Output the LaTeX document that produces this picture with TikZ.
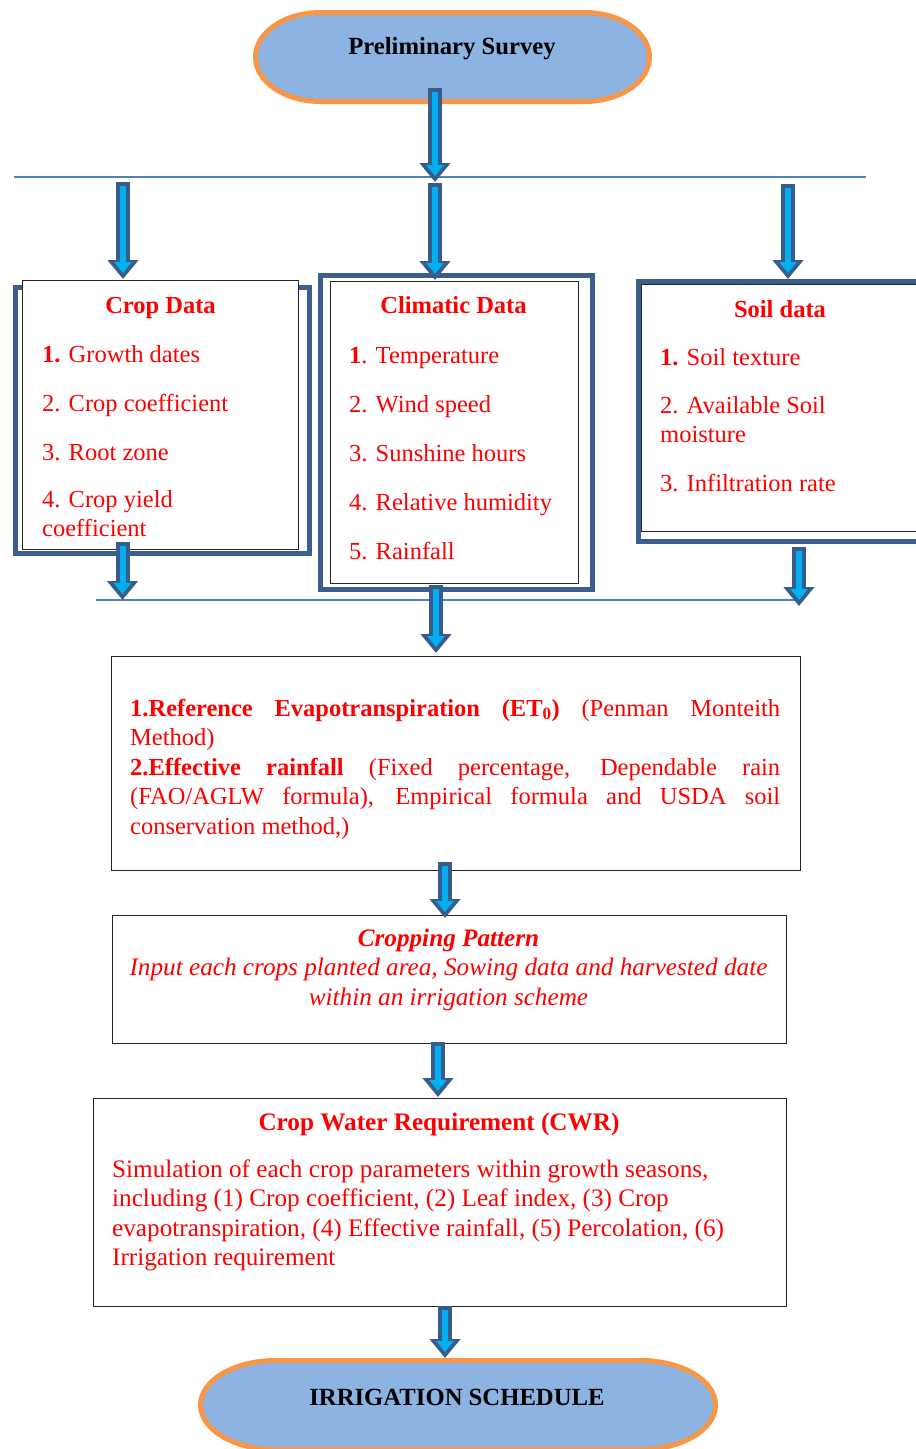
\documentclass[tikz,border=0pt]{standalone}
\usepackage{fontspec}
\setmainfont{Liberation Serif}
\usetikzlibrary{positioning, arrows.meta}
\setlength{\parindent}{0pt}

\definecolor{termfill}{HTML}{8DB3E2}
\definecolor{termedge}{HTML}{F79646}
\definecolor{frameblue}{HTML}{3B5E8C}
\definecolor{busblue}{HTML}{4F81BD}
\definecolor{arrowcore}{HTML}{00B0F0}
\definecolor{arrowedge}{HTML}{385D8A}
\definecolor{textred}{HTML}{FF0000}

\tikzset{
    bodyfont/.style={font=\fontsize{24.5}{29.5}\selectfont},
    lowfont/.style={font=\fontsize{25.2}{29.5}\selectfont},
    terminal/.style={draw=termedge, line width=5pt, fill=termfill},
    termtext/.style={font=\fontsize{24.7}{29.5}\selectfont\bfseries, text=black, inner sep=0pt, anchor=base},
    dataframe/.style={draw=frameblue, line width=5pt, inner sep=0pt},
    databox/.style={draw=black!85, line width=1pt, fill=white, inner sep=0pt},
    datatitle/.style={font=\fontsize{24.5}{29.5}\selectfont\bfseries, text=textred, inner sep=0pt, anchor=base},
    datalist/.style={bodyfont, text=textred, align=left, inner sep=0pt, anchor=north west},
    bus/.style={draw=busblue, line width=1.5pt},
    flowedge/.style={draw=arrowedge, line width=14pt, -{Triangle[width=30pt,length=19pt]}},
    flowcore/.style={draw=arrowcore, line width=6pt, shorten <=4pt, shorten >=6pt, -{Triangle[width=17pt,length=11pt]}}
}

\begin{document}
\begin{tikzpicture}[x=1pt, y=-1pt]

\useasboundingbox (0,0) rectangle (916,1449);
\clip (0,0) rectangle (916,1449);

% preliminary survey
\draw[terminal] (320.5,12.5) -- (584.5,12.5)
    arc[start angle=-90, end angle=90, x radius=65, y radius=44.5]
    -- (320.5,101.5)
    arc[start angle=90, end angle=270, x radius=65, y radius=44.5] -- cycle;
\node[termtext] (survey) at (452,54) {Preliminary Survey};

% bus lines
\coordinate (top-bus-l) at (14,177);
\coordinate (top-bus-r) at (866,177);
\coordinate (low-bus-l) at (96,600);
\coordinate (low-bus-r) at (800,600);
\draw[bus] (top-bus-l) -- (top-bus-r);
\draw[bus] (low-bus-l) -- (low-bus-r);

% crop data
\node[dataframe, minimum width=294pt, minimum height=266.5pt] (crop-frame) at (162,420.25) {};
\node[databox, minimum width=276pt, minimum height=269pt] (crop-box) at (160,415) {};
\node[datatitle] (crop-title) at (160.5,313) {Crop Data};
\node[datalist] (crop-list) at (42,341.35) {\strut\textbf{1.} Growth dates\\[19.5pt]
    2. Crop coefficient\\[19.5pt]
    3. Root zone\\[17.5pt]
    4. Crop yield\\
    coefficient};

% climatic data
\node[dataframe, minimum width=272pt, minimum height=314pt] (clim-frame) at (456.5,432.5) {};
\node[databox, minimum width=248pt, minimum height=302pt] (clim-box) at (454,432) {};
\node[datatitle] (clim-title) at (453.5,313) {Climatic Data};
\node[datalist] (clim-list) at (349,342.35) {\strut\textbf{1}. Temperature\\[19.5pt]
    2. Wind speed\\[19.5pt]
    3. Sunshine hours\\[19.5pt]
    4. Relative humidity\\[19.5pt]
    5. Rainfall};

% soil data
\node[dataframe, minimum width=352pt, minimum height=260pt] (soil-frame) at (814,411) {};
\node[databox, minimum width=359pt, minimum height=247pt] (soil-box) at (820.5,408) {};
\node[datatitle] (soil-title) at (780,317) {Soil data};
\node[datalist] (soil-list) at (660,344.35) {\strut\textbf{1.} Soil texture\\[18.5pt]
    2. Available Soil\\
    moisture\\[19pt]
    3. Infiltration rate};

% evapotranspiration and rainfall
\node[databox, minimum width=689pt, minimum height=214.5pt] (et-box) at (455.5,763.3) {};
\node[bodyfont, text=textred, text width=650pt, align=justify, inner sep=0pt, anchor=north west] (et-text) at (130,695.35)
    {\strut\textbf{1.Reference Evapotranspiration (ET\textsubscript{0})} (Penman Monteith\linebreak
    Method)\par
    \textbf{2.Effective rainfall} (Fixed percentage, Dependable rain\linebreak
    (FAO/AGLW formula), Empirical formula and USDA soil\linebreak
    conservation method,)};

% cropping pattern
\node[databox, minimum width=674pt, minimum height=128pt] (pattern-box) at (449,979) {};
\node[lowfont, text=textred, align=center, inner sep=0pt, anchor=north] (pattern-text) at (448.5,925.35)
    {\strut\textbf{\itshape Cropping Pattern}\\
    \itshape Input each crops planted area, Sowing data and harvested date\\
    \itshape within an irrigation scheme};

% crop water requirement
\node[databox, minimum width=693pt, minimum height=208pt] (cwr-box) at (439.5,1202) {};
\node[datatitle, font=\fontsize{25.2}{29.5}\selectfont\bfseries] (cwr-title) at (439,1130) {Crop Water Requirement (CWR)};
\node[datalist, lowfont] (cwr-text) at (112,1156.35)
    {\strut Simulation of each crop parameters within growth seasons,\\
    including (1) Crop coefficient, (2) Leaf index, (3) Crop\\
    evapotranspiration, (4) Effective rainfall, (5) Percolation, (6)\\
    Irrigation requirement};

% irrigation schedule
\draw[terminal] (275.5,1360.5) -- (640.5,1360.5)
    arc[start angle=-90, end angle=90, x radius=75, y radius=44.5]
    -- (275.5,1449.5)
    arc[start angle=90, end angle=270, x radius=75, y radius=44.5] -- cycle;
\node[termtext] (schedule) at (457,1405) {IRRIGATION SCHEDULE};

% arrow ends
\coordinate (survey-out) at (435,88);
\coordinate (top-bus-mid) at (435,182);
\coordinate (top-bus-crop) at (123,182);
\coordinate (crop-in) at (123,279);
\coordinate (top-bus-clim) at (435,183);
\coordinate (clim-in) at (435,280);
\coordinate (top-bus-soil) at (788,184);
\coordinate (soil-in) at (788,279);
\coordinate (crop-out) at (122.5,542);
\coordinate (low-bus-crop) at (122.5,600);
\coordinate (clim-out) at (436,585);
\coordinate (et-in) at (436,653);
\coordinate (soil-out) at (799,547);
\coordinate (low-bus-soil) at (799,606);
\coordinate (et-out) at (445,862);
\coordinate (pattern-in) at (445,918);
\coordinate (pattern-out) at (438,1042);
\coordinate (cwr-in) at (438,1097);
\coordinate (cwr-out) at (445,1306);
\coordinate (schedule-in) at (445,1358);

% block arrows
\foreach \a/\b in {survey-out/top-bus-mid, top-bus-crop/crop-in, top-bus-clim/clim-in,
    top-bus-soil/soil-in, crop-out/low-bus-crop, clim-out/et-in, soil-out/low-bus-soil,
    et-out/pattern-in, pattern-out/cwr-in, cwr-out/schedule-in} {
    \draw[flowedge] (\a) -- (\b);
    \draw[flowcore] (\a) -- (\b);
}

\end{tikzpicture}
\end{document}
